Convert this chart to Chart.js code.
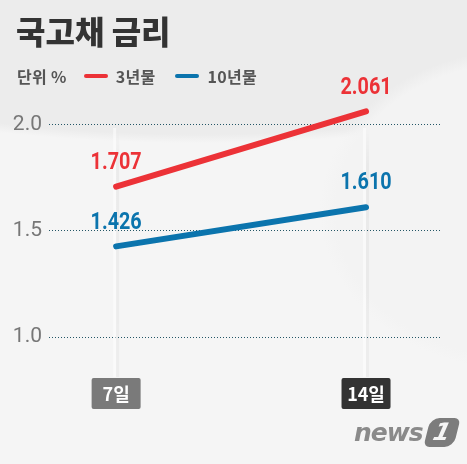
<!DOCTYPE html>
<html>
<head>
<meta charset="utf-8">
<script src="https://cdn.jsdelivr.net/npm/chart.js@4/dist/chart.umd.min.js"></script>
<style>
html, body { margin: 0; padding: 0; }
body {
    width: 467px; height: 464px; overflow: hidden; position: relative;
    font-family: 'Noto Sans CJK KR', 'Noto Sans', sans-serif;
    background:
        radial-gradient(ellipse 200px 160px at 520px 210px, #f3f3f3 0, #f3f3f3 92%, rgba(243,243,243,0) 100%),
        radial-gradient(ellipse 500px 125px at 200px 18px, #ececec 0, #ececec 93%, rgba(236,236,236,0) 100%),
        #f5f5f5;
}
#chart { position: absolute; left: 0; top: 0; }
.title { position: absolute; left: 16px; top: 7px; font-size: 32px; font-weight: 900; color: #333; letter-spacing: 0; }
.legend { position: absolute; left: 17px; top: 64px; font-size: 16px; font-weight: 700; color: #555; display: flex; align-items: center; white-space: nowrap; letter-spacing: 0.3px; }
.legend .mark { display: inline-block; width: 24px; height: 4px; border-radius: 2px; margin: 0 8px 0 0; }
.logo { position: absolute; left: 354px; top: 418px; display: flex; align-items: center; }
.logo .news { font-family: 'DejaVu Sans', sans-serif; font-style: italic; font-weight: 700; font-size: 25px; color: #8a8a8a; letter-spacing: -1px; }
.logo .one { margin-left: 4px; width: 30px; height: 29px; background: #7c7c7c; border-radius: 9px 6px 9px 6px; transform: skewX(-14deg);
    color: #f5f5f5; font-family: 'DejaVu Sans', sans-serif; font-weight: 700; font-style: italic; font-size: 24px; line-height: 29px; text-align: center; }
</style>
</head>
<body>
<canvas id="chart" width="467" height="464"></canvas>
<div class="title">국고채 금리</div>
<div class="legend">
    <span style="margin-right:17px">단위 %</span>
    <span class="mark" style="background:#ec3237"></span><span style="margin-right:20px">3년물</span>
    <span class="mark" style="background:#0b74ad"></span><span>10년물</span>
</div>
<div class="logo"><span class="news">news</span><span class="one">1</span></div>
<script>
// 국고채 금리 (%)
const categories = ['7일', '14일'];
const days = [7, 14];
const seriesNames = ['3년물', '10년물'];
const rate3y = [1.707, 2.061];
const rate10y = [1.426, 1.610];
const yTicks = [1.0, 1.5, 2.0];

const RED = '#ec3237';
const BLUE = '#0b74ad';
const boxColors = ['#7a7a7a', '#333333'];

function toPoints(values) {
    return values.map((v, i) => ({ x: days[i], y: v }));
}

// light vertical stripes behind each date
const columnPlugin = {
    id: 'columns',
    beforeDatasetsDraw(chart) {
        const { ctx, chartArea, scales: { x } } = chart;
        days.forEach(d => {
            const px = x.getPixelForValue(d);
            const top = chartArea.top + 25, bottom = chartArea.bottom + 40;
            const g = ctx.createLinearGradient(0, top, 0, bottom);
            g.addColorStop(0, 'rgba(0,0,0,0)');
            g.addColorStop(0.15, 'rgba(0,0,0,0.04)');
            g.addColorStop(1, 'rgba(0,0,0,0.03)');
            ctx.save();
            ctx.fillStyle = 'rgba(255,255,255,0.5)';
            ctx.fillRect(px - 3, top, 3, bottom - top);
            ctx.fillStyle = g;
            ctx.fillRect(px, top, 3, bottom - top);
            ctx.restore();
        });
    }
};

// value labels and date boxes
const labelPlugin = {
    id: 'labels',
    afterDatasetsDraw(chart) {
        const { ctx, chartArea, scales: { x } } = chart;
        ctx.save();
        chart.data.datasets.forEach((ds, di) => {
            const meta = chart.getDatasetMeta(di);
            meta.data.forEach((pt, i) => {
                const text = ds.data[i].y.toFixed(3);
                ctx.save();
                ctx.translate(pt.x, pt.y - 12);
                ctx.scale(0.86, 1);
                ctx.font = 'bold 23px Roboto';
                ctx.fillStyle = ds.borderColor;
                ctx.textAlign = 'center';
                ctx.textBaseline = 'bottom';
                ctx.fillText(text, 0, 0);
                ctx.restore();
            });
        });
        categories.forEach((c, i) => {
            const px = x.getPixelForValue(days[i]);
            const bw = 49, bh = 31, by = chartArea.bottom + 41;
            ctx.fillStyle = boxColors[i];
            ctx.beginPath();
            ctx.roundRect(px - bw / 2, by, bw, bh, 2);
            ctx.fill();
            ctx.fillStyle = '#ffffff';
            ctx.font = 'bold 18px "Noto Sans CJK KR"';
            ctx.textAlign = 'center';
            ctx.textBaseline = 'middle';
            ctx.fillText(c, px, by + bh / 2 + 1);
        });
        ctx.restore();
    }
};

new Chart(document.getElementById('chart'), {
    type: 'line',
    data: {
        datasets: [
            { label: seriesNames[0], data: toPoints(rate3y), borderColor: RED },
            { label: seriesNames[1], data: toPoints(rate10y), borderColor: BLUE }
        ]
    },
    options: {
        responsive: false,
        animation: false,
        layout: { padding: { left: 0, right: 26, top: 103, bottom: 127 } },
        elements: {
            line: { borderWidth: 6, borderCapStyle: 'round', tension: 0 },
            point: { radius: 0, hoverRadius: 0 }
        },
        plugins: { legend: { display: false }, tooltip: { enabled: false } },
        scales: {
            x: { type: 'linear', display: false, min: 5.12, max: 16.1 },
            y: {
                min: 1.0, max: 2.1,
                afterFit(s) { s.width = 49; },
                afterBuildTicks(s) { s.ticks = yTicks.map(v => ({ value: v })); },
                ticks: {
                    padding: 7,
                    color: '#777',
                    font: { family: 'Roboto', size: 21 },
                    callback: v => v.toFixed(1)
                },
                grid: { color: '#245666', lineWidth: 1, drawTicks: false },
                border: { display: false, dash: [1, 2] }
            }
        }
    },
    plugins: [columnPlugin, labelPlugin]
});
</script>
</body>
</html>
